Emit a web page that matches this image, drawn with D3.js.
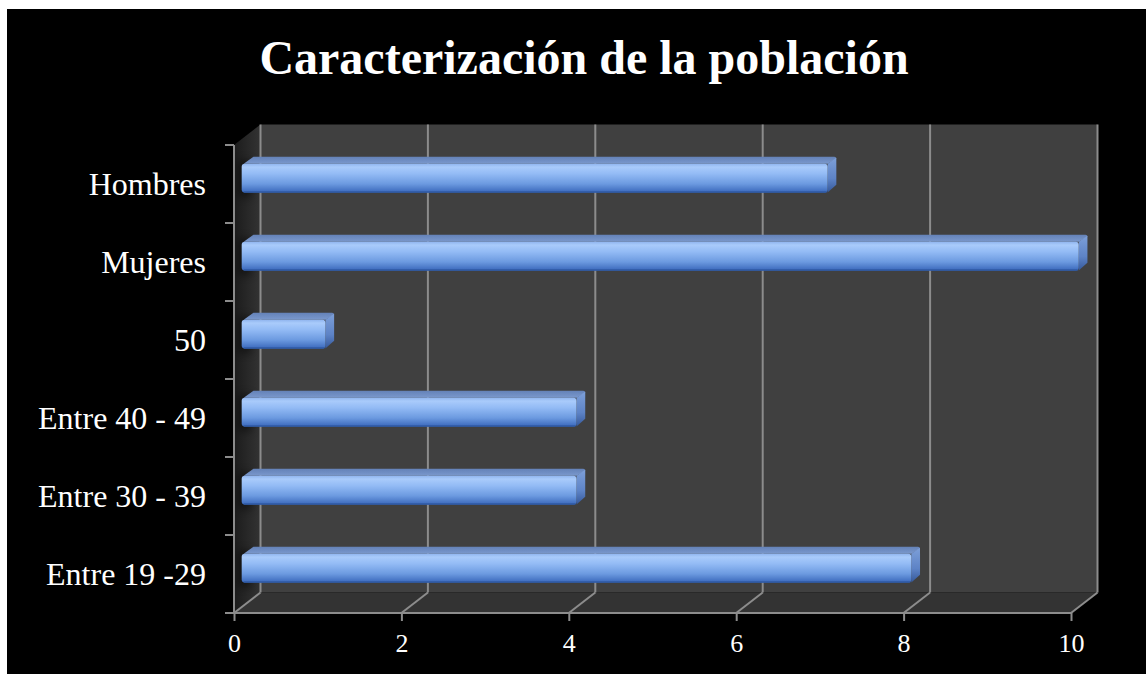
<!DOCTYPE html>
<html>
<head>
<meta charset="utf-8">
<script src="https://cdn.jsdelivr.net/npm/d3@7"></script>
<style>
  html, body { margin: 0; padding: 0; background: #ffffff; }
  svg { display: block; }
</style>
</head>
<body>
<svg id="chart" width="1146" height="674"></svg>
<script>
// Categories (top to bottom) and their counts
const categories = ["Hombres", "Mujeres", "50", "Entre 40 - 49", "Entre 30 - 39", "Entre 19 -29"];
const values = [7, 10, 1, 4, 4, 8];
const xTicks = [0, 2, 4, 6, 8, 10];
const titleText = "Caracterización de la población";

const svg = d3.select("#chart");
const W = 1146, H = 674;
const font = "'Liberation Serif', 'Times New Roman', serif";

// black chart area inside a thin white margin
svg.append("rect").attr("x", 7).attr("y", 9).attr("width", W - 7).attr("height", H - 9).attr("fill", "#000");

// front-plane scales
const x = d3.scaleLinear().domain([0, 10]).range([234, 1071]);
const y = d3.scaleBand().domain(categories).range([145, 613]).padding(0);

// oblique depth offset of the back plane
const DX = 26.5, DY = -20.5;
const depth = (z) => [DX * z, DY * z];

const defs = svg.append("defs");

const sideGrad = defs.append("linearGradient").attr("id", "sideWall").attr("x1", 0).attr("x2", 1).attr("y1", 0).attr("y2", 0);
sideGrad.append("stop").attr("offset", "0%").attr("stop-color", "#1c1c1c");
sideGrad.append("stop").attr("offset", "100%").attr("stop-color", "#333333");

const frontGrad = defs.append("linearGradient").attr("id", "barFront").attr("x1", 0).attr("x2", 0).attr("y1", 0).attr("y2", 1);
[["0%", "#8fb4ee"], ["12%", "#a9cbfb"], ["35%", "#93bbf5"], ["70%", "#6c9ae0"], ["100%", "#3a68bb"]]
  .forEach(([o, c]) => frontGrad.append("stop").attr("offset", o).attr("stop-color", c));

const topGrad = defs.append("linearGradient").attr("id", "barTop").attr("x1", 0).attr("x2", 0).attr("y1", 0).attr("y2", 1);
topGrad.append("stop").attr("offset", "0%").attr("stop-color", "#6482b8");
topGrad.append("stop").attr("offset", "100%").attr("stop-color", "#7a98cc");

const endGrad = defs.append("linearGradient").attr("id", "barEnd").attr("x1", 0).attr("x2", 0).attr("y1", 0).attr("y2", 1);
endGrad.append("stop").attr("offset", "0%").attr("stop-color", "#7d9fd8");
endGrad.append("stop").attr("offset", "60%").attr("stop-color", "#5d83c6");
endGrad.append("stop").attr("offset", "100%").attr("stop-color", "#35589a");

const blur = defs.append("filter").attr("id", "soft").attr("x", "-50%").attr("y", "-50%").attr("width", "200%").attr("height", "200%");
blur.append("feGaussianBlur").attr("stdDeviation", 4);

const [x0, x10] = x.range();
const [yTop, yBot] = y.range();
const [bdx, bdy] = depth(1);

// back wall
svg.append("rect")
  .attr("x", x0 + bdx).attr("y", yTop + bdy)
  .attr("width", x10 - x0).attr("height", yBot - yTop)
  .attr("fill", "#404040");

// floor
svg.append("polygon")
  .attr("points", [[x0, yBot], [x10, yBot], [x10 + bdx, yBot + bdy], [x0 + bdx, yBot + bdy]].join(" "))
  .attr("fill", "#333333");

// left side wall
svg.append("polygon")
  .attr("points", [[x0, yTop], [x0 + bdx, yTop + bdy], [x0 + bdx, yBot + bdy], [x0, yBot]].join(" "))
  .attr("fill", "url(#sideWall)");

const grid = svg.append("g").attr("stroke", "#8c8c8c").attr("stroke-width", 2).attr("fill", "none");

// vertical gridlines on the back wall
grid.selectAll("line.v").data(xTicks).join("line")
  .attr("class", "v")
  .attr("x1", d => x(d) + bdx).attr("x2", d => x(d) + bdx)
  .attr("y1", yTop + bdy).attr("y2", yBot + bdy);

// floor gridlines running back from each tick
grid.selectAll("line.f").data(xTicks).join("line")
  .attr("class", "f")
  .attr("x1", d => x(d)).attr("x2", d => x(d) + bdx)
  .attr("y1", yBot).attr("y2", yBot + bdy);

// shadows cast by bars on the side wall
const z0 = 0.29, z1 = 0.62;
const barH = y.bandwidth() * 0.37;
svg.append("g").selectAll("rect").data(categories).join("rect")
  .attr("x", x0 + 4).attr("width", 14)
  .attr("y", d => y(d) + y.bandwidth() / 2 - barH / 2 + DY * 0.45)
  .attr("height", barH + 8)
  .attr("fill", "#000").attr("opacity", 0.45)
  .attr("filter", "url(#soft)");

// bars: front face, top face and end cap in oblique projection
const bars = svg.append("g").selectAll("g").data(categories.map((c, i) => ({ c, v: values[i] }))).join("g");

bars.each(function (d) {
  const g = d3.select(this);
  const [fx, fy] = depth(z0);
  const [kx, ky] = depth(z1 - z0);
  const left = x(0) + fx;
  const right = x(d.v) + fx;
  const top = y(d.c) + y.bandwidth() / 2 - barH / 2 + fy;
  const bottom = top + barH;

  // top face
  g.append("path")
    .attr("d", `M${left + 2},${top} L${left + kx + 3},${top + ky} L${right + kx - 2},${top + ky} Q${right + kx},${top + ky} ${right + kx},${top + ky + 2} L${right},${top} Z`)
    .attr("fill", "url(#barTop)");

  // end cap
  g.append("path")
    .attr("d", `M${right},${top} L${right + kx},${top + ky + 1} L${right + kx},${bottom + ky - 1} L${right},${bottom} Z`)
    .attr("fill", "url(#barEnd)");

  // front face
  g.append("rect")
    .attr("x", left).attr("y", top)
    .attr("width", right - left).attr("height", barH)
    .attr("rx", 3).attr("ry", 3)
    .attr("fill", "url(#barFront)");

  // dark lower rim
  g.append("line")
    .attr("x1", left + 2).attr("x2", right - 1)
    .attr("y1", bottom - 0.5).attr("y2", bottom - 0.5)
    .attr("stroke", "#2f5aa5").attr("stroke-width", 1.5);
});

// front horizontal axis
const xAxis = d3.axisBottom(x).tickValues(xTicks).tickSize(8).tickPadding(8).tickFormat(d3.format("d"));
const gx = svg.append("g").attr("transform", `translate(0,${yBot})`).call(xAxis);
gx.select(".domain").attr("stroke", "#8c8c8c").attr("stroke-width", 2).attr("d", `M${x0},0H${x10}`);
gx.selectAll(".tick line").attr("stroke", "#8c8c8c").attr("stroke-width", 2);
gx.selectAll(".tick text").attr("fill", "#fff").attr("font-family", font).attr("font-size", 26).attr("dy", "0.88em");

// front vertical axis with ticks between categories
const gy = svg.append("g").attr("transform", `translate(${x0},0)`);
gy.append("line").attr("x1", 0).attr("x2", 0).attr("y1", yTop).attr("y2", yBot)
  .attr("stroke", "#8c8c8c").attr("stroke-width", 2);
const bounds = categories.map(c => y(c)).concat([yBot]);
gy.selectAll("line.t").data(bounds).join("line").attr("class", "t")
  .attr("x1", -9).attr("x2", 0).attr("y1", d => d).attr("y2", d => d)
  .attr("stroke", "#8c8c8c").attr("stroke-width", 2);

const yAxis = d3.axisLeft(y).tickSize(0).tickPadding(28);
const gyl = svg.append("g").attr("transform", `translate(${x0},0)`).call(yAxis);
gyl.select(".domain").remove();
gyl.selectAll(".tick text").attr("fill", "#fff").attr("font-family", font).attr("font-size", 32).attr("dy", "0.33em");

// title
svg.append("text")
  .attr("x", 584).attr("y", 74)
  .attr("text-anchor", "middle")
  .attr("fill", "#fff")
  .attr("font-family", font).attr("font-weight", "bold").attr("font-size", 48)
  .text(titleText);
</script>
</body>
</html>
